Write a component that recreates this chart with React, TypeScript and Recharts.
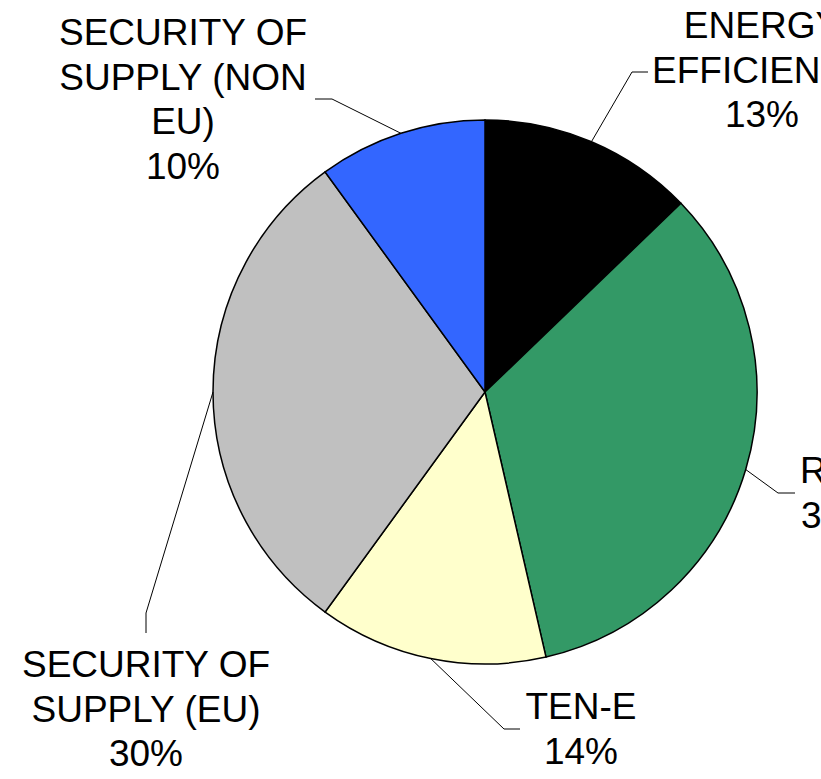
import { Cell, Pie, PieChart } from 'recharts'

// slices, clockwise from 12 o'clock
const categories = ['ENERGY EFFICIENCY', 'RES', 'TEN-E', 'SECURITY OF SUPPLY (EU)', 'SECURITY OF SUPPLY (NON EU)']
const shares = [12.8, 33.6, 13.6, 30.0, 10.0]
// how each label breaks into lines (as in the original)
const labelLines = [
    ['ENERGY', 'EFFICIENCY'],
    ['RES'],
    ['TEN-E'],
    ['SECURITY OF', 'SUPPLY (EU)'],
    ['SECURITY OF', 'SUPPLY (NON', 'EU)'],
]

const COLORS = ['#000000', '#339966', '#FFFFCC', '#C0C0C0', '#3366FF']

// label placement relative to the pie centre: leader elbow, leader end, text centre x, first baseline
const LABEL_LAYOUT = [
    { elbow: [147, -320], end: [163, -320], tx: 277, ty: -354 },
    { elbow: [293, 101], end: [310, 101], tx: 353, ty: 91 },
    { elbow: [19, 337], end: [35, 337], tx: 96, ty: 327 },
    { elbow: [-339, 221], end: [-339, 241], tx: -339, ty: 285 },
    { elbow: [-153, -293], end: [-170, -293], tx: -302, ty: -347 },
]

const LINE_HEIGHT = 44.5
const RAD = Math.PI / 180

const chartData = categories.map((name, i) => ({ name, value: shares[i] }))

function renderLabel(props: any) {
    const { cx, cy, midAngle, outerRadius, percent, index } = props
    const layout = LABEL_LAYOUT[index]
    const sx = cx + outerRadius * Math.cos(-midAngle * RAD)
    const sy = cy + outerRadius * Math.sin(-midAngle * RAD)
    const lines = [...labelLines[index], `${Math.round((percent || 0) * 100)}%`]
    return (
        <g key={`label-${index}`}>
            <polyline
                points={`${sx},${sy} ${cx + layout.elbow[0]},${cy + layout.elbow[1]} ${cx + layout.end[0]},${cy + layout.end[1]}`}
                fill="none"
                stroke="#000"
                strokeWidth={1}
            />
            <text
                x={cx + layout.tx}
                y={cy + layout.ty}
                textAnchor="middle"
                fill="#000"
                fontSize={37}
                fontFamily="'Liberation Sans', Arial, sans-serif"
            >
                {lines.map((line, i) => (
                    <tspan key={i} x={cx + layout.tx} dy={i === 0 ? 0 : LINE_HEIGHT}>
                        {line}
                    </tspan>
                ))}
            </text>
        </g>
    )
}

export default function App() {
    return (
        <div style={{ position: 'fixed', left: 0, top: 0, width: 821, height: 779, overflow: 'hidden', background: '#fff' }}>
            <PieChart width={1000} height={779} margin={{ top: 0, right: 0, bottom: 0, left: 0 }}>
                <Pie
                    data={chartData}
                    dataKey="value"
                    nameKey="name"
                    cx={485}
                    cy={392}
                    outerRadius={272}
                    startAngle={90}
                    endAngle={-270}
                    stroke="#000"
                    strokeWidth={1.5}
                    label={renderLabel}
                    labelLine={false}
                    isAnimationActive={false}
                >
                    {chartData.map((entry, index) => (
                        <Cell key={`cell-${index}`} fill={COLORS[index]} />
                    ))}
                </Pie>
            </PieChart>
        </div>
    )
}
